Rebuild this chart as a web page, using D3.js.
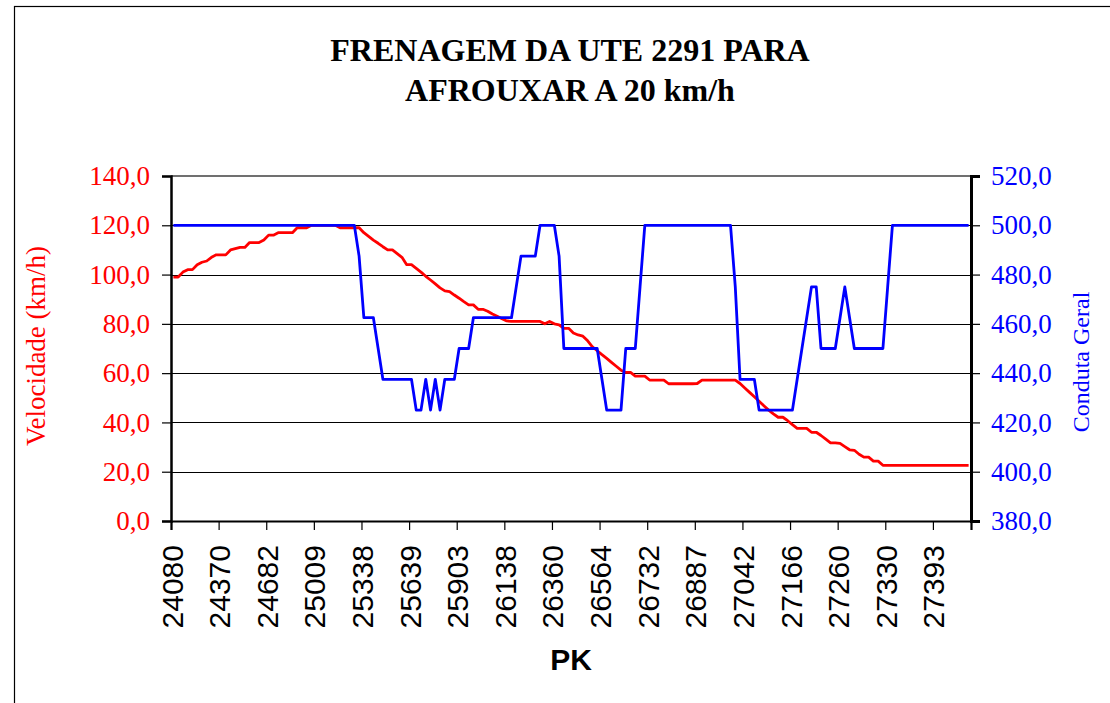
<!DOCTYPE html>
<html>
<head>
<meta charset="utf-8">
<script src="https://cdn.jsdelivr.net/npm/d3@7/dist/d3.min.js"></script>
<style>
  html, body { margin: 0; padding: 0; background: #fff; }
  svg { display: block; }
</style>
</head>
<body>
<svg id="chart" width="1110" height="703"></svg>
<script>
// PK labels shown on the category axis (one every 10 readings)
const pkLabels = ["24080","24370","24682","25009","25338","25639","25903","26138","26360",
                  "26564","26732","26887","27042","27166","27260","27330","27393"];
const labelStep = 10;

// Velocidade (km/h), one reading per category
const velocidade = [
  99, 99, 101, 102, 102, 104, 105, 105.5, 107, 108,
  108, 108, 110, 110.5, 111, 111, 113, 113, 113, 114,
  116, 116, 117, 117, 117, 117, 119, 119, 119, 120,
  120, 120, 120, 120, 120, 119, 119, 119, 119, 119,
  117, 115.5, 114, 112.7, 111.3, 110, 110, 108.5, 107, 104,
  104, 102.5, 101, 99.3, 97.8, 96.2, 94.6, 93.4, 93.1, 91.7,
  90.4, 89, 87.7, 87.7, 85.9, 85.9, 85.1, 84, 83.1, 82.1,
  81.2, 81, 81, 81, 81, 81, 81, 81, 80, 81,
  80, 79.6, 78.2, 78.2, 76.3, 75.5, 75, 73.1, 70.7, 69.1,
  67.5, 66, 64.4, 62.8, 61.2, 60.3, 60.3, 58.8, 58.8, 58.8,
  57.2, 57.2, 57.2, 57.2, 55.7, 55.7, 55.7, 55.7, 55.7, 55.7,
  55.8, 57.2, 57.2, 57.2, 57.2, 57.2, 57.2, 57.2, 57.2, 55.8,
  54, 52.2, 50.4, 48.6, 46.8, 45, 43.5, 42.1, 42.1, 40.7,
  39.1, 37.6, 37.6, 37.6, 36, 36, 34.7, 33.2, 31.7, 31.7,
  31.5, 30.2, 28.9, 28.7, 27.1, 25.9, 25.9, 24.3, 24.3, 22.6,
  22.6, 22.6, 22.6, 22.6, 22.6, 22.6, 22.6, 22.6, 22.6, 22.6,
  22.6, 22.6, 22.6, 22.6, 22.6, 22.6, 22.6, 22.6
];

// Conduta Geral, one reading per category
const conduta = [
  500, 500, 500, 500, 500, 500, 500, 500, 500, 500,
  500, 500, 500, 500, 500, 500, 500, 500, 500, 500,
  500, 500, 500, 500, 500, 500, 500, 500, 500, 500,
  500, 500, 500, 500, 500, 500, 500, 500, 500, 487.5,
  462.5, 462.5, 462.5, 450, 437.5, 437.5, 437.5, 437.5, 437.5, 437.5,
  437.5, 425, 425, 437.5, 425, 437.5, 425, 437.5, 437.5, 437.5,
  450, 450, 450, 462.5, 462.5, 462.5, 462.5, 462.5, 462.5, 462.5,
  462.5, 462.5, 475, 487.5, 487.5, 487.5, 487.5, 500, 500, 500,
  500, 487.5, 450, 450, 450, 450, 450, 450, 450, 450,
  437.5, 425, 425, 425, 425, 450, 450, 450, 475, 500,
  500, 500, 500, 500, 500, 500, 500, 500, 500, 500,
  500, 500, 500, 500, 500, 500, 500, 500, 475, 437.5,
  437.5, 437.5, 437.5, 425, 425, 425, 425, 425, 425, 425,
  425, 437.5, 450, 462.5, 475, 475, 450, 450, 450, 450,
  462.5, 475, 462.5, 450, 450, 450, 450, 450, 450, 450,
  475, 500, 500, 500, 500, 500, 500, 500, 500, 500,
  500, 500, 500, 500, 500, 500, 500, 500
];

const leftTicks = [0, 20, 40, 60, 80, 100, 120, 140];
const rightTicks = [380, 400, 420, 440, 460, 480, 500, 520];

const titleLines = ["FRENAGEM DA UTE 2291 PARA", "AFROUXAR A 20 km/h"];

const svg = d3.select("#chart");
const W = 1110, H = 703;
const plot = { left: 171, right: 971, top: 176, bottom: 521 };
const serif = "'Liberation Serif', 'Times New Roman', Times, serif";
const sans = "'Liberation Sans', Arial, Helvetica, sans-serif";

svg.append("rect").attr("width", W).attr("height", H).attr("fill", "#fff");
// chart frame
svg.append("rect")
  .attr("x", 14.5).attr("y", 6.5)
  .attr("width", W + 10).attr("height", H + 10)
  .attr("fill", "none").attr("stroke", "#000").attr("stroke-width", 1.2);

const n = velocidade.length;
const x = d3.scaleLinear().domain([0, n]).range([plot.left, plot.right]);
const yL = d3.scaleLinear().domain([0, 140]).range([plot.bottom, plot.top]);
const yR = d3.scaleLinear().domain([380, 520]).range([plot.bottom, plot.top]);

// horizontal gridlines
svg.append("g").selectAll("line").data(leftTicks.slice(1, -1)).join("line")
  .attr("x1", plot.left).attr("x2", plot.right)
  .attr("y1", d => Math.round(yL(d)) + 0.5).attr("y2", d => Math.round(yL(d)) + 0.5)
  .attr("stroke", "#000").attr("stroke-width", 1);

// plot border top
svg.append("line")
  .attr("x1", plot.left).attr("x2", plot.right)
  .attr("y1", plot.top).attr("y2", plot.top)
  .attr("stroke", "#707070").attr("stroke-width", 2);

// left axis
const leftAxis = d3.axisLeft(yL).tickValues(leftTicks).tickSize(9).tickPadding(12)
  .tickFormat(d => d3.format(".1f")(d).replace(".", ","));
const gL = svg.append("g").attr("transform", `translate(${plot.left},0)`).call(leftAxis);
gL.select(".domain").attr("stroke", "#000").attr("stroke-width", 2.5);
gL.selectAll(".tick line").attr("stroke", "#000").attr("stroke-width", 1.2);
gL.selectAll(".tick text").attr("fill", "#ff0000")
  .style("font-family", serif).style("font-size", "27px");

// right axis
const rightAxis = d3.axisRight(yR).tickValues(rightTicks).tickSize(9).tickPadding(11)
  .tickFormat(d => d3.format(".1f")(d).replace(".", ","));
const gR = svg.append("g").attr("transform", `translate(${plot.right},0)`).call(rightAxis);
gR.select(".domain").attr("stroke", "#000").attr("stroke-width", 3);
gR.selectAll(".tick line").attr("stroke", "#000").attr("stroke-width", 1.2);
gR.selectAll(".tick text").attr("fill", "#0000ff")
  .style("font-family", serif).style("font-size", "27px");

// bottom category axis
const tickIdx = pkLabels.map((_, k) => k * labelStep);
const bottomAxis = d3.axisBottom(x).tickValues(tickIdx).tickSize(9).tickFormat(() => "");
const gB = svg.append("g").attr("transform", `translate(0,${plot.bottom})`).call(bottomAxis);
gB.select(".domain").attr("stroke", "#000").attr("stroke-width", 2.2);
gB.selectAll(".tick line").attr("stroke", "#000").attr("stroke-width", 1.2);

svg.append("g").selectAll("text").data(pkLabels).join("text")
  .attr("transform", (d, k) => `translate(${x(k * labelStep) + 1},545) rotate(-90)`)
  .attr("text-anchor", "end").attr("dy", "0.35em")
  .style("font-family", sans).style("font-size", "30px").attr("fill", "#000")
  .text(d => d);

// series
const lineL = d3.line().x((d, i) => x(i + 0.5)).y(d => yL(d));
const lineR = d3.line().x((d, i) => x(i + 0.5)).y(d => yR(d));

svg.append("path").datum(velocidade).attr("d", lineL)
  .attr("fill", "none").attr("stroke", "#ff0000").attr("stroke-width", 2.8)
  .attr("stroke-linejoin", "round");
svg.append("path").datum(conduta).attr("d", lineR)
  .attr("fill", "none").attr("stroke", "#0000ff").attr("stroke-width", 2.8)
  .attr("stroke-linejoin", "round");

// titles
svg.append("text").attr("x", 570).attr("text-anchor", "middle")
  .style("font-family", serif).style("font-weight", "bold").style("font-size", "32px")
  .selectAll("tspan").data(titleLines).join("tspan")
  .attr("x", 570).attr("y", (d, i) => 61 + i * 40).text(d => d);

svg.append("text")
  .attr("transform", "translate(45,346) rotate(-90)")
  .attr("text-anchor", "middle")
  .style("font-family", serif).style("font-size", "27px").attr("fill", "#ff0000")
  .text("Velocidade (km/h)");

svg.append("text")
  .attr("transform", "translate(1081,362) rotate(-90)")
  .attr("text-anchor", "middle").attr("dy", "0.35em")
  .style("font-family", serif).style("font-size", "24px").attr("fill", "#0000ff")
  .text("Conduta Geral");

svg.append("text").attr("x", 571).attr("y", 670).attr("text-anchor", "middle")
  .style("font-family", sans).style("font-weight", "bold").style("font-size", "30px")
  .text("PK");
</script>
</body>
</html>
